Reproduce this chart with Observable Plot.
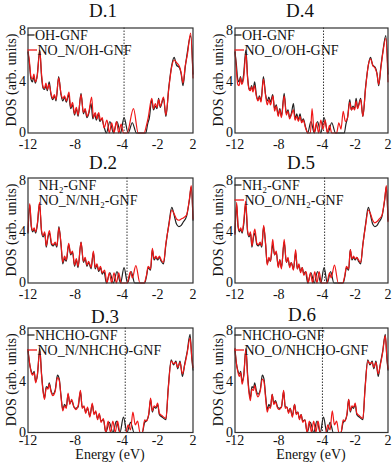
<!DOCTYPE html>
<html><head><meta charset="utf-8">
<script src="https://cdn.jsdelivr.net/npm/d3@7"></script>
<script src="https://cdn.jsdelivr.net/npm/@observablehq/plot@0.6"></script>
<style>
body{margin:0;background:#fff;}
#root{position:relative;width:392px;height:465px;overflow:hidden;background:#fff;font-family:"Liberation Serif",serif;color:#111;}
.t{position:absolute;font-size:19px;transform:translate(-50%,-50%);white-space:nowrap;}
.xl{position:absolute;font-size:14px;line-height:14px;transform:translate(-50%,-50%);white-space:nowrap;}
.p{position:absolute;}
</style></head><body><div id="root"></div>
<script>
// ---- data ----
const panelTitles = ["D.1","D.2","D.3","D.4","D.5","D.6"];
const blackNames = ["OH-GNF","NH₂-GNF","NHCHO-GNF","OH-GNF","NH₂-GNF","NHCHO-GNF"];
const redNames = ["NO_N/OH-GNF","NO_N/NH₂-GNF","NO_N/NHCHO-GNF","NO_O/OH-GNF","NO_O/NH₂-GNF","NO_O/NHCHO-GNF"];
const fermiLevels = [-3.85,-3.6,-3.75,-3.9,-3.8,-4.0];
const xTickValues = [-12,-8,-4,-1,2];
const xTickLabels = ["-12","-8","-4","-2","2"];
const yTickValues = [0,4,8];
const xLabel = "Energy (eV)";
const yLabel = "DOS (arb. units)";

// DOS curves: [energy (eV), DOS]
const dosOH = [[-12,6.3],[-11.88,5.4],[-11.75,4.2],[-11.62,4.0],[-11.5,4.4],[-11.38,3.9],[-11.22,4.5],[-11.0,6.5],[-10.85,4.4],[-10.72,3.5],[-10.6,3.4],[-10.48,3.7],[-10.36,3.3],[-10.2,4.0],[-10.05,3.0],[-9.9,2.6],[-9.76,2.9],[-9.62,2.5],[-9.4,4.4],[-9.2,3.0],[-9.05,2.5],[-8.9,2.8],[-8.75,2.4],[-8.55,3.0],[-8.38,1.9],[-8.22,2.2],[-8.05,1.4],[-7.9,1.9],[-7.75,1.3],[-7.5,3.1],[-7.3,1.5],[-7.15,1.8],[-7.0,1.2],[-6.85,1.5],[-6.65,2.3],[-6.5,1.1],[-6.35,1.5],[-6.2,1.0],[-6.05,1.5],[-5.9,0.9],[-5.75,1.1],[-5.55,0.5],[-5.35,0],[-5.05,0.9],[-4.75,0],[-4.45,0.9],[-4.15,0],[-3.85,1.2],[-3.5,0],[-3.15,0.8],[-2.8,0],[-2.0,0],[-1.85,0.7],[-1.7,1.2],[-1.5,2.6],[-1.35,1.8],[-1.2,2.1],[-1.05,1.9],[-0.92,2.7],[-0.78,2.0],[-0.5,2.7],[-0.3,1.3],[-0.05,3.6],[0.2,5.3],[0.4,5.9],[0.6,5.3],[0.85,5.1],[1.0,4.6],[1.15,3.7],[1.35,5.2],[1.52,6.3],[1.8,7.6],[2.0,4.6]];
const dosNON_OH = [[-12,6.4],[-11.88,5.6],[-11.75,4.4],[-11.62,4.2],[-11.5,4.6],[-11.38,4.0],[-11.22,4.4],[-11.0,6.4],[-10.85,4.6],[-10.72,3.6],[-10.6,3.5],[-10.48,3.9],[-10.36,3.4],[-10.22,3.8],[-10.05,3.1],[-9.9,2.7],[-9.76,3.0],[-9.62,2.6],[-9.4,4.3],[-9.2,3.1],[-9.05,2.7],[-8.9,2.9],[-8.75,2.5],[-8.52,3.2],[-8.38,2.0],[-8.22,2.4],[-8.05,1.5],[-7.9,2.0],[-7.75,1.4],[-7.5,3.0],[-7.3,1.6],[-7.15,1.9],[-7.0,1.3],[-6.85,1.6],[-6.6,2.8],[-6.45,1.2],[-6.3,1.6],[-6.15,1.1],[-6.0,1.6],[-5.85,1.0],[-5.7,1.2],[-5.55,0.4],[-5.3,1.0],[-5.1,0],[-4.9,0.8],[-4.7,0],[-4.5,0.9],[-4.3,0],[-4.1,0.7],[-3.9,0],[-3.6,0],[-3.05,1.9],[-2.65,0],[-2.15,0],[-1.95,0.6],[-1.8,1.2],[-1.5,2.7],[-1.35,1.9],[-1.2,2.3],[-1.05,2.0],[-0.92,2.6],[-0.78,2.1],[-0.5,2.8],[-0.3,1.4],[-0.05,3.5],[0.2,5.2],[0.4,5.7],[0.6,5.5],[0.85,5.2],[1.0,4.7],[1.15,3.9],[1.35,5.3],[1.52,6.1],[1.8,7.8],[2.0,4.3]];
const dosNOO_OH = [[-12,6.4],[-11.88,5.0],[-11.75,3.8],[-11.62,3.7],[-11.5,4.3],[-11.38,3.8],[-11.22,4.2],[-11.0,6.2],[-10.85,4.3],[-10.72,3.4],[-10.6,3.3],[-10.48,3.6],[-10.36,3.2],[-10.22,3.7],[-10.05,2.9],[-9.9,2.5],[-9.76,2.8],[-9.62,2.4],[-9.4,4.2],[-9.2,2.9],[-9.05,2.2],[-8.9,2.6],[-8.75,2.2],[-8.52,2.9],[-8.38,1.7],[-8.22,2.1],[-8.05,1.3],[-7.9,1.8],[-7.75,1.2],[-7.5,2.9],[-7.3,1.4],[-7.15,1.7],[-7.0,1.1],[-6.85,1.4],[-6.65,1.8],[-6.5,1.0],[-6.35,1.3],[-6.2,0.9],[-6.05,1.3],[-5.9,0.8],[-5.75,1.0],[-5.55,0.4],[-5.3,0],[-5.1,0],[-4.95,1.9],[-4.75,0],[-4.55,0.8],[-4.35,0],[-4.15,1.0],[-3.95,0.3],[-3.75,1.0],[-3.55,0],[-3.35,0.6],[-3.15,0],[-2.7,0],[-2.5,0.8],[-2.3,0.3],[-2.1,1.7],[-1.9,0.9],[-1.7,1.2],[-1.5,2.4],[-1.35,1.8],[-1.2,2.0],[-1.05,1.8],[-0.92,2.5],[-0.78,1.9],[-0.5,2.6],[-0.3,1.3],[-0.05,3.5],[0.2,5.3],[0.4,5.8],[0.6,5.3],[0.85,5.0],[1.0,4.6],[1.15,3.8],[1.35,5.1],[1.52,6.2],[1.8,7.4],[2.0,4.0]];
const dosNH2 = [[-12,3.9],[-11.85,6.1],[-11.72,4.4],[-11.6,4.0],[-11.48,4.2],[-11.35,3.9],[-11.2,4.6],[-11.02,6.2],[-10.85,4.0],[-10.72,3.6],[-10.58,3.9],[-10.45,2.8],[-10.3,3.6],[-10.18,3.9],[-10.0,3.0],[-9.85,2.9],[-9.7,3.1],[-9.55,2.8],[-9.38,4.4],[-9.2,3.0],[-9.05,1.5],[-8.9,1.9],[-8.75,1.7],[-8.55,3.0],[-8.38,2.2],[-8.22,2.4],[-8.05,1.3],[-7.9,1.8],[-7.75,1.2],[-7.5,3.2],[-7.3,1.6],[-7.15,1.9],[-7.0,1.3],[-6.85,1.6],[-6.65,1.1],[-6.45,2.4],[-6.3,1.1],[-6.15,1.4],[-6.0,0.9],[-5.85,1.2],[-5.7,0.7],[-5.55,0.9],[-5.35,0],[-5.05,0.8],[-4.75,0],[-4.45,0.9],[-4.15,0],[-3.85,1.2],[-3.55,0],[-3.25,0.9],[-2.95,0],[-2.1,0],[-1.95,0.5],[-1.8,1.2],[-1.6,1.0],[-1.45,2.6],[-1.3,1.8],[-1.15,2.0],[-1.0,1.8],[-0.85,2.0],[-0.7,1.7],[-0.5,1.5],[-0.3,3.0],[-0.05,4.6],[0.2,5.9],[0.4,5.3],[0.6,4.6],[0.8,4.4],[1.0,4.5],[1.2,4.8],[1.45,5.2],[1.7,6.5],[1.85,7.5],[2.0,4.9]];
const dosNON_NH2 = [[-12,4.0],[-11.85,6.2],[-11.72,4.5],[-11.6,4.1],[-11.48,4.3],[-11.35,4.0],[-11.2,4.7],[-11.02,6.3],[-10.85,4.1],[-10.72,3.7],[-10.58,4.0],[-10.45,2.9],[-10.3,3.7],[-10.18,4.1],[-10.0,3.1],[-9.85,3.0],[-9.7,3.2],[-9.55,2.9],[-9.38,4.3],[-9.2,3.1],[-9.05,1.6],[-8.9,2.1],[-8.75,1.8],[-8.55,3.1],[-8.38,2.3],[-8.22,2.5],[-8.05,1.4],[-7.9,1.9],[-7.75,1.3],[-7.5,3.2],[-7.3,1.7],[-7.15,2.0],[-7.0,1.4],[-6.85,1.7],[-6.65,1.2],[-6.45,2.5],[-6.3,1.2],[-6.15,1.5],[-6.0,1.0],[-5.85,1.3],[-5.7,0.8],[-5.5,1.0],[-5.3,0],[-5.1,0.8],[-4.9,0],[-4.7,0.8],[-4.5,0],[-4.3,0.8],[-4.1,0],[-3.6,0],[-3.3,0.9],[-3.15,0.4],[-2.85,1.35],[-2.5,0],[-2.15,0],[-1.95,0.6],[-1.8,1.3],[-1.6,1.1],[-1.45,2.7],[-1.3,1.9],[-1.15,2.1],[-1.0,1.9],[-0.85,2.1],[-0.7,1.8],[-0.5,1.6],[-0.3,3.1],[-0.05,4.5],[0.2,5.7],[0.4,5.4],[0.6,5.0],[0.8,4.9],[1.0,5.0],[1.2,5.1],[1.45,5.3],[1.7,6.6],[1.85,7.6],[2.0,5.0]];
const dosNOO_NH2 = [[-12,3.8],[-11.85,6.3],[-11.72,4.5],[-11.6,4.1],[-11.48,4.3],[-11.35,4.0],[-11.2,4.8],[-11.02,6.4],[-10.85,4.1],[-10.72,3.7],[-10.58,4.0],[-10.45,2.9],[-10.3,3.8],[-10.18,4.2],[-10.0,3.1],[-9.85,3.0],[-9.7,3.2],[-9.55,2.9],[-9.38,4.5],[-9.2,3.1],[-9.05,1.4],[-8.9,2.0],[-8.75,1.7],[-8.55,3.4],[-8.38,2.2],[-8.22,2.5],[-8.05,1.2],[-7.9,1.8],[-7.75,1.1],[-7.5,3.4],[-7.3,1.6],[-7.15,2.0],[-7.0,1.2],[-6.85,1.6],[-6.65,1.0],[-6.45,2.6],[-6.3,1.1],[-6.15,1.5],[-6.0,0.8],[-5.85,1.2],[-5.7,0.6],[-5.5,0.9],[-5.3,0],[-5.1,0.8],[-4.9,0],[-4.7,0.9],[-4.5,0],[-4.3,0.9],[-4.1,0],[-3.6,0],[-3.35,0.8],[-3.2,0.4],[-2.9,1.4],[-2.55,0],[-2.15,0],[-1.95,0.6],[-1.8,1.3],[-1.6,1.1],[-1.45,2.6],[-1.3,1.9],[-1.15,2.1],[-1.0,1.9],[-0.85,2.0],[-0.7,1.8],[-0.5,1.6],[-0.3,3.0],[-0.05,4.5],[0.2,5.7],[0.4,5.4],[0.6,4.9],[0.8,4.7],[1.0,4.8],[1.2,5.0],[1.45,5.3],[1.7,6.6],[1.85,7.6],[2.0,4.8]];
const dosNHCHO = [[-12,6.5],[-11.9,5.6],[-11.75,4.9],[-11.6,4.6],[-11.48,4.8],[-11.35,4.0],[-11.2,4.5],[-11.0,6.6],[-10.85,4.6],[-10.72,3.3],[-10.6,2.7],[-10.45,3.6],[-10.3,3.5],[-10.2,3.9],[-10.05,3.3],[-9.9,3.0],[-9.7,3.3],[-9.5,4.5],[-9.35,4.2],[-9.2,2.9],[-9.05,1.8],[-8.9,2.2],[-8.75,2.0],[-8.6,3.0],[-8.45,2.3],[-8.3,2.5],[-8.1,2.0],[-7.95,1.9],[-7.75,2.0],[-7.55,3.2],[-7.4,2.0],[-7.25,2.0],[-7.1,1.6],[-6.95,1.9],[-6.75,1.3],[-6.55,2.2],[-6.4,1.5],[-6.25,1.6],[-6.1,1.1],[-5.95,1.4],[-5.8,0.9],[-5.6,1.0],[-5.4,0],[-5.1,0.8],[-4.8,0],[-4.5,0.9],[-4.2,0],[-3.9,1.2],[-3.6,0],[-3.3,0.8],[-3.0,0],[-2.3,0],[-2.1,0.8],[-1.95,0.9],[-1.75,1.4],[-1.6,2.6],[-1.45,1.6],[-1.3,2.0],[-1.15,1.9],[-1.0,2.2],[-0.85,1.4],[-0.6,1.2],[-0.3,1.0],[-0.1,3.5],[0.15,5.7],[0.35,5.3],[0.55,5.6],[0.7,5.0],[0.9,5.6],[1.1,4.4],[1.3,5.4],[1.5,6.3],[1.75,7.7],[1.9,5.8],[2.0,4.9]];
const dosNON_NHCHO = [[-12,6.4],[-11.9,5.7],[-11.75,4.8],[-11.6,4.5],[-11.48,4.7],[-11.35,3.9],[-11.2,4.6],[-11.0,6.4],[-10.85,4.5],[-10.72,3.2],[-10.6,2.6],[-10.45,3.5],[-10.3,3.4],[-10.2,3.8],[-10.05,3.2],[-9.9,2.9],[-9.7,3.2],[-9.5,4.3],[-9.35,4.1],[-9.2,2.8],[-9.05,1.7],[-8.9,2.1],[-8.75,1.9],[-8.6,3.1],[-8.45,2.2],[-8.3,2.6],[-8.1,2.0],[-7.95,1.8],[-7.75,2.1],[-7.55,3.3],[-7.4,1.9],[-7.25,2.1],[-7.1,1.5],[-6.95,2.0],[-6.75,1.2],[-6.55,2.3],[-6.4,1.4],[-6.25,1.7],[-6.1,1.0],[-5.95,1.5],[-5.8,0.8],[-5.6,1.1],[-5.4,0],[-5.2,0.9],[-5.0,0],[-4.8,0.9],[-4.6,0],[-4.4,0.9],[-4.2,0],[-3.7,0],[-3.5,0.6],[-3.3,0.2],[-3.1,1.6],[-2.9,0.6],[-2.7,0.9],[-2.5,0],[-2.3,0],[-2.1,1.0],[-1.95,0.9],[-1.75,1.5],[-1.6,2.7],[-1.45,1.7],[-1.3,2.1],[-1.15,2.0],[-1.0,2.3],[-0.85,1.5],[-0.6,1.3],[-0.3,1.1],[-0.1,3.4],[0.15,5.6],[0.35,5.4],[0.55,5.5],[0.7,5.1],[0.9,5.5],[1.1,4.6],[1.3,5.3],[1.5,6.2],[1.75,7.4],[1.9,5.9],[2.0,5.1]];
const dosNOO_NHCHO = [[-12,6.6],[-11.9,5.6],[-11.75,4.8],[-11.6,4.4],[-11.48,4.7],[-11.35,3.8],[-11.2,4.4],[-11.0,6.5],[-10.85,4.4],[-10.72,3.1],[-10.6,2.5],[-10.45,3.4],[-10.3,3.3],[-10.2,3.7],[-10.05,3.1],[-9.9,2.8],[-9.7,3.2],[-9.5,4.2],[-9.35,4.0],[-9.2,2.7],[-9.05,1.6],[-8.9,2.0],[-8.75,1.9],[-8.6,3.0],[-8.45,2.2],[-8.3,2.4],[-8.1,1.9],[-7.95,1.8],[-7.75,2.0],[-7.55,3.3],[-7.4,1.9],[-7.25,2.0],[-7.1,1.5],[-6.95,1.9],[-6.75,1.2],[-6.55,2.2],[-6.4,1.4],[-6.25,1.6],[-6.1,1.0],[-5.95,1.4],[-5.8,0.8],[-5.6,1.0],[-5.4,0],[-5.2,0.9],[-5.0,0],[-4.8,0.9],[-4.6,0],[-4.4,0.9],[-4.2,0],[-3.7,0],[-3.5,0.6],[-3.3,0.2],[-3.1,1.7],[-2.9,0.6],[-2.7,0.9],[-2.5,0],[-2.3,0],[-2.1,1.0],[-1.95,0.9],[-1.75,1.5],[-1.6,2.6],[-1.45,1.7],[-1.3,2.1],[-1.15,2.0],[-1.0,2.3],[-0.85,1.5],[-0.6,1.3],[-0.3,1.1],[-0.1,3.4],[0.15,5.6],[0.35,5.4],[0.55,5.5],[0.7,5.1],[0.9,5.5],[1.1,4.6],[1.3,5.3],[1.5,6.2],[1.75,7.6],[1.9,5.9],[2.0,5.0]];

const blackSeries = [dosOH, dosNH2, dosNHCHO, dosOH, dosNH2, dosNHCHO];
const redSeries = [dosNON_OH, dosNON_NH2, dosNON_NHCHO, dosNOO_OH, dosNOO_NH2, dosNOO_NHCHO];

// ---- layout ----
const root = document.getElementById("root");
const colX = [0, 200];              // svg left
const colML = [27.5, 34.5];         // marginLeft
const colW = [195, 190];
const rowY = [20, 170, 320];
const rowMT = [7.5, 7.5, 7.5];
const frameH = [105, 105, 104.5];
const titlePos = [[103,11],[103,163],[105,317],[300,11],[301,163],[302,315]];
const legendDash = [true,false,true,true,true,true];

function addDiv(cls, text, x, y) {
  const d = document.createElement("div");
  d.className = cls; d.textContent = text;
  d.style.left = x + "px"; d.style.top = y + "px";
  root.appendChild(d);
  return d;
}

for (let k = 0; k < 6; k++) {
  const col = k < 3 ? 0 : 1, row = k % 3;
  const H = 140;
  const plot = Plot.plot({
    width: colW[col], height: H,
    marginLeft: colML[col], marginRight: 2.5,
    marginTop: rowMT[row], marginBottom: H - rowMT[row] - frameH[row],
    style: {fontFamily: "Liberation Serif, serif", fontSize: "14px", color: "#111", background: "transparent", overflow: "visible"},
    x: {domain: [-12, 2], ticks: xTickValues, tickFormat: d => xTickLabels[xTickValues.indexOf(d)], tickSize: 0, tickPadding: row === 2 ? 3 : 6, label: null},
    y: {domain: [0, 8.2], ticks: yTickValues, tickSize: 0, tickPadding: 2, label: null},
    marks: [
      Plot.ruleX([fermiLevels[k]], {stroke: "#333", strokeWidth: 1, strokeDasharray: "1.5,1.5"}),
      Plot.line(blackSeries[k], {x: d => d[0], y: d => d[1], curve: "monotone-x", stroke: "#222", strokeWidth: 1.2}),
      Plot.line(redSeries[k], {x: d => d[0], y: d => d[1], curve: "monotone-x", stroke: "#f01818", strokeWidth: 1.2}),
      Plot.frame({stroke: "#333", strokeWidth: 1.2})
    ]
  });
  plot.classList.add("p");
  plot.style.left = colX[col] + "px";
  plot.style.top = rowY[row] + "px";
  root.appendChild(plot);

  const svg = d3.select(plot);
  const fx = colML[col], fy = rowMT[row];
  // y-axis title, rotated, left of the frame
  svg.append("text")
    .attr("transform", `translate(${fx - 16.5},${fy + frameH[row] / 2}) rotate(-90)`)
    .attr("text-anchor", "middle").attr("dy", "0.35em")
    .attr("font-family", "Liberation Serif, serif").attr("font-size", 14).attr("fill", "#111")
    .text(yLabel);
  // legend (pixel space inside the frame)
  const g = svg.append("g").attr("font-family", "Liberation Serif, serif").attr("font-size", 14).attr("fill", "#111").attr("text-anchor", "start");
  const rows = [[blackNames[k], "#222", 7.5, 7], [redNames[k], "#f01818", 22.5, 9.5]];
  rows.forEach(([name, c, dy, len]) => {
    if (legendDash[k]) {
      g.append("line").attr("x1", fx).attr("x2", fx + len).attr("y1", fy + dy).attr("y2", fy + dy).attr("stroke", c).attr("stroke-width", 1.3);
    }
    g.append("text").attr("x", fx + (legendDash[k] ? len + 0.5 : 11)).attr("y", fy + dy).attr("dy", "0.35em").attr("text-anchor", "start").text(name);
  });

  addDiv("t", panelTitles[k], titlePos[k][0], titlePos[k][1]);
}
addDiv("xl", xLabel, 110, 455);
addDiv("xl", xLabel, 311, 455);
</script>
</body></html>
